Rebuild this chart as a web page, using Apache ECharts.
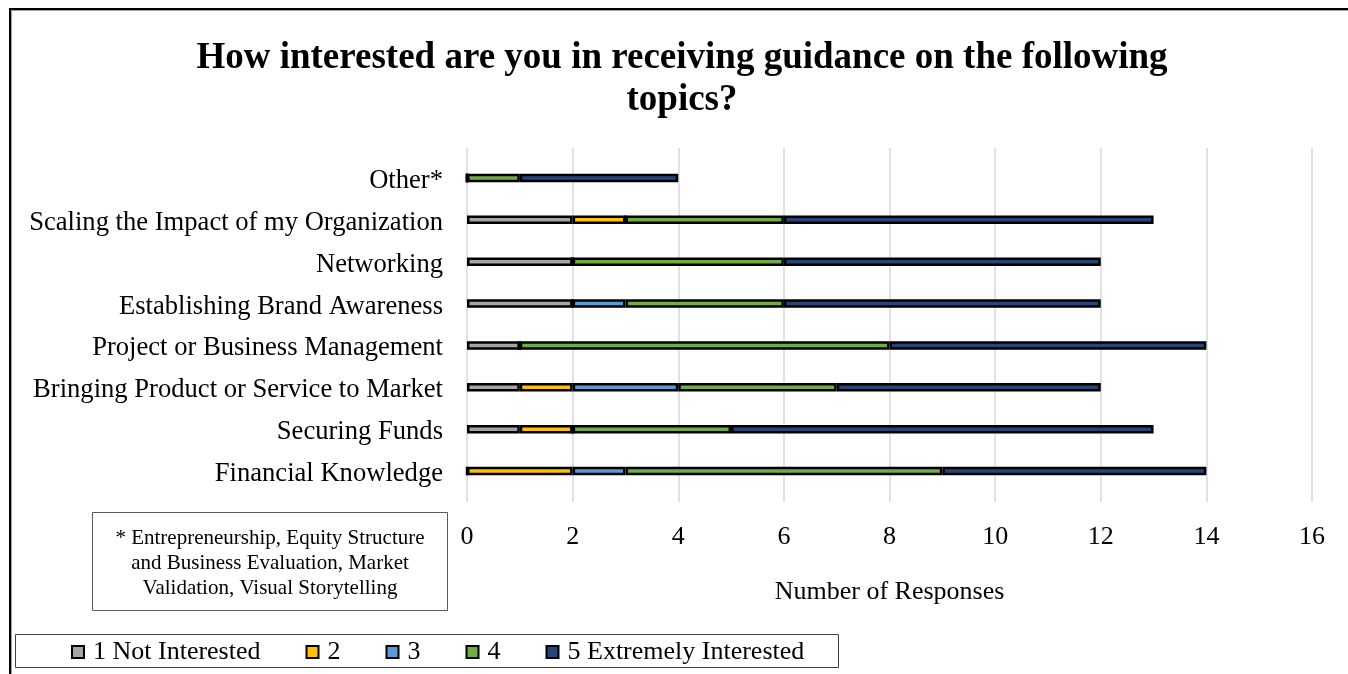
<!DOCTYPE html>
<html>
<head>
<meta charset="utf-8">
<title>Guidance interest survey</title>
<script src="https://cdn.jsdelivr.net/npm/echarts@6/dist/echarts.min.js"></script>
<style>
  html, body { margin: 0; padding: 0; background: #fff; }
  #chart { width: 1348px; height: 674px; }
</style>
</head>
<body>
<div id="chart"></div>
<script>
// Topics, listed top to bottom
const topics = [
  'Other*',
  'Scaling the Impact of my Organization',
  'Networking',
  'Establishing Brand Awareness',
  'Project or Business Management',
  'Bringing Product or Service to Market',
  'Securing Funds',
  'Financial Knowledge'
];

// Response counts per interest level (same order as topics)
const notInterested = [0, 2, 2, 2, 1, 1, 1, 0];
const level2        = [0, 1, 0, 0, 0, 1, 1, 2];
const level3        = [0, 0, 0, 1, 0, 2, 0, 1];
const level4        = [1, 3, 4, 3, 7, 3, 3, 6];
const extremely     = [3, 7, 6, 6, 6, 5, 8, 5];

const levelNames = ['1 Not Interested', '2', '3', '4', '5 Extremely Interested'];
const levelColors = ['#A5A5A5', '#FFC000', '#5B9BD5', '#70AD47', '#264478'];
const levelValues = [notInterested, level2, level3, level4, extremely];

const titleText = 'How interested are you in receiving guidance on the following\ntopics?';
const noteText = '* Entrepreneurship, Equity Structure\nand Business Evaluation, Market\nValidation, Visual Storytelling';

const serif = '"Liberation Serif", "Times New Roman", serif';

const chart = echarts.init(document.getElementById('chart'), null, { renderer: 'canvas' });

const series = levelNames.map((name, i) => ({
  name: name,
  type: 'bar',
  stack: 'total',
  xAxisIndex: 1,
  yAxisIndex: 1,
  barWidth: 8.5,
  data: levelValues[i],
  itemStyle: { color: levelColors[i], borderColor: '#000', borderWidth: 2.5 },
  emphasis: { disabled: true }
}));

chart.setOption({
  animation: false,
  textStyle: { fontFamily: serif },
  grid: [
    // gridlines and value labels
    { left: 467, right: 36, top: 148, bottom: 172 },
    // bars and topic labels
    { left: 467, right: 36, top: 157, bottom: 182 }
  ],
  xAxis: [
    {
      gridIndex: 0, type: 'value', min: 0, max: 16, interval: 2,
      axisLine: { show: false }, axisTick: { show: false },
      splitLine: { show: true, lineStyle: { color: '#D9D9D9', width: 1.5 } },
      axisLabel: { fontSize: 26, color: '#000', fontFamily: serif, margin: 22 },
      name: 'Number of Responses', nameLocation: 'middle', nameGap: 77,
      nameTextStyle: { fontSize: 26, color: '#000', fontFamily: serif }
    },
    {
      gridIndex: 1, type: 'value', min: 0, max: 16, interval: 2, show: false
    }
  ],
  yAxis: [
    { gridIndex: 0, type: 'value', min: 0, max: 1, show: false },
    {
      gridIndex: 1, type: 'category', data: topics, inverse: true,
      axisLine: { show: false }, axisTick: { show: false },
      axisLabel: { fontSize: 26.6, color: '#000', fontFamily: serif, margin: 24,
        verticalAlign: 'top', lineHeight: 6 }
    }
  ],
  legend: {
    data: levelNames,
    left: 71, top: 637,
    orient: 'horizontal',
    padding: 0,
    itemWidth: 12, itemHeight: 12, itemGap: 45,
    icon: 'rect',
    selectedMode: false,
    itemStyle: { borderColor: '#000', borderWidth: 2 },
    textStyle: { fontSize: 26, color: '#000', fontFamily: serif, padding: [0, 0, 0, 4], lineHeight: 30 }
  },
  graphic: [
    // outer frame
    { type: 'rect', silent: true, shape: { x: 10, y: 9, width: 1400, height: 700 },
      style: { fill: 'none', stroke: '#000', lineWidth: 2 } },
    { type: 'rect', silent: true, shape: { x: 11.5, y: 10.5, width: 1400, height: 700 },
      style: { fill: 'none', stroke: '#A0A0A0', lineWidth: 1 } },
    // title
    { type: 'text', silent: true, x: 682, y: 79,
      style: { text: titleText, align: 'center', verticalAlign: 'middle',
        font: 'bold 37px ' + serif, lineHeight: 42, fill: '#000' } },
    // footnote box
    { type: 'rect', silent: true, shape: { x: 92.5, y: 512.5, width: 355, height: 98 },
      style: { fill: '#fff', stroke: '#595959', lineWidth: 1 } },
    { type: 'text', silent: true, x: 270, y: 563,
      style: { text: noteText, align: 'center', verticalAlign: 'middle',
        font: '21px ' + serif, lineHeight: 25, fill: '#000' } },
    // legend box
    { type: 'rect', silent: true, z: -1, shape: { x: 15.5, y: 634.5, width: 823, height: 33 },
      style: { fill: '#fff', stroke: '#404040', lineWidth: 1 } }
  ],
  series: series
});
</script>
</body>
</html>
